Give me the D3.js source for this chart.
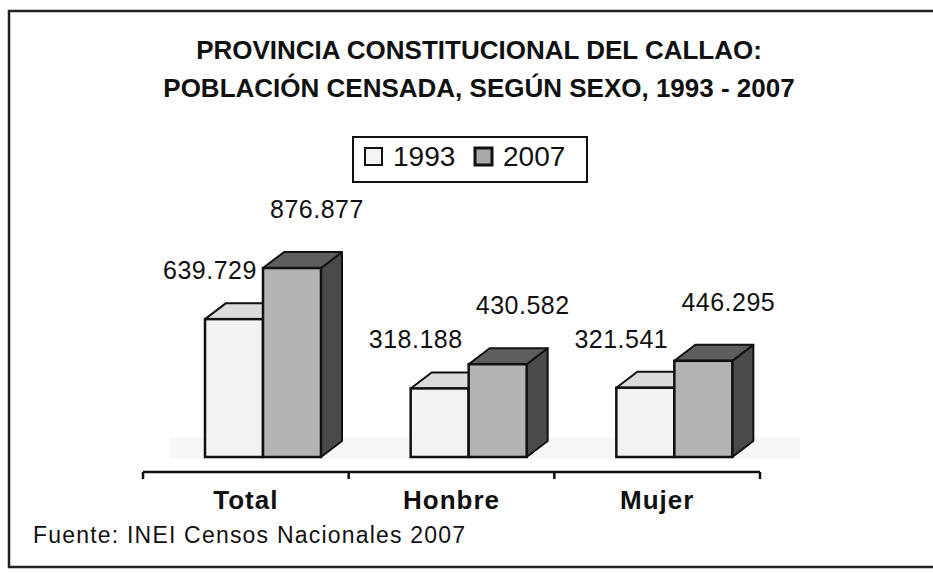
<!DOCTYPE html>
<html>
<head>
<meta charset="utf-8">
<script src="https://cdn.jsdelivr.net/npm/d3@7"></script>
<style>
  body { margin: 0; background: #fff; }
  text { font-family: "Liberation Sans", Arial, sans-serif; fill: #111; }
</style>
</head>
<body>
<svg id="chart" width="933" height="573"></svg>
<script>
// data
const categories = ["Total", "Honbre", "Mujer"];
const years = ["1993", "2007"];
const values1993 = [639729, 318188, 321541];
const values2007 = [876877, 430582, 446295];
const valueLabels1993 = ["639.729", "318.188", "321.541"];
const valueLabels2007 = ["876.877", "430.582", "446.295"];
const titleLines = ["PROVINCIA CONSTITUCIONAL DEL CALLAO:", "POBLACIÓN CENSADA, SEGÚN SEXO, 1993 - 2007"];
const sourceNote = "Fuente: INEI Censos Nacionales 2007";

const svg = d3.select("#chart");
const W = 933, H = 573;
const base = 457, axisY = 472;
const depthX = 21, depthY = 16;

// frame (right edge runs off the scan)
svg.append("path")
  .attr("d", `M${W + 5},11 L9,11 L9,567 L${W + 5},567`)
  .attr("fill", "none").attr("stroke", "#222").attr("stroke-width", 2.5);

// title
svg.selectAll("text.title").data(titleLines).join("text")
  .attr("class", "title")
  .attr("x", 479)
  .attr("y", (d, i) => 59 + i * 38)
  .attr("text-anchor", "middle")
  .style("font-size", "26px").style("font-weight", "bold")
  .text(d => d);

// legend
const legend = svg.append("g");
legend.append("rect").attr("x", 353).attr("y", 137).attr("width", 234).attr("height", 45)
  .attr("fill", "#fff").attr("stroke", "#111").attr("stroke-width", 2);
const legFill = { "1993": "#f4f4f4", "2007": "#a9a9a9" };
const legX = { "1993": 365, "2007": 475 };
years.forEach(y => {
  legend.append("rect").attr("x", legX[y]).attr("y", 148).attr("width", 17).attr("height", 17)
    .attr("fill", legFill[y]).attr("stroke", "#111").attr("stroke-width", y === "2007" ? 3 : 2);
  legend.append("text").attr("x", legX[y] + 28).attr("y", 166)
    .style("font-size", "28px").text(y);
});

// scales
const x = d3.scaleBand().domain(categories).range([143, 760]);
const xSub = d3.scaleBand().domain(years).range([62, 62 + 116]);
const yscale = d3.scaleLinear().domain([0, 1000000]).range([base, base - 215.5]);

const rows = categories.map((c, i) => ({
  cat: c,
  bars: [
    { year: "1993", value: values1993[i], label: valueLabels1993[i] },
    { year: "2007", value: values2007[i], label: valueLabels2007[i] }
  ]
}));

const colors = {
  "1993": { front: "#f2f2f2", top: "#dcdcdc", side: "#bdbdbd" },
  "2007": { front: "#b3b3b3", top: "#5e5e5e", side: "#4a4a4a" }
};

// faint floor shading like the scan
svg.append("rect").attr("x", 170).attr("y", base - 20).attr("width", 630).attr("height", 22)
  .attr("fill", "#f7f7f7");

const groups = svg.selectAll("g.cat").data(rows).join("g")
  .attr("class", "cat")
  .attr("transform", d => `translate(${x(d.cat)},0)`);

groups.each(function (row) {
  const g = d3.select(this);
  row.bars.forEach(b => {
    const x0 = xSub(b.year), w = xSub.bandwidth(), y0 = yscale(b.value);
    const c = colors[b.year];
    g.append("path")
      .attr("d", `M${x0 + w},${y0} L${x0 + w + depthX},${y0 - depthY} L${x0 + w + depthX},${base - depthY} L${x0 + w},${base} Z`)
      .attr("fill", c.side).attr("stroke", "#111").attr("stroke-width", 2).attr("stroke-linejoin", "round");
    g.append("path")
      .attr("d", `M${x0},${y0} L${x0 + depthX},${y0 - depthY} L${x0 + w + depthX},${y0 - depthY} L${x0 + w},${y0} Z`)
      .attr("fill", c.top).attr("stroke", "#111").attr("stroke-width", 2).attr("stroke-linejoin", "round");
    g.append("rect")
      .attr("x", x0).attr("y", y0).attr("width", w).attr("height", base - y0)
      .attr("fill", c.front).attr("stroke", "#111").attr("stroke-width", 2.5);
  });
  row.bars.forEach(b => {
    const cx = xSub(b.year) + xSub.bandwidth() / 2;
    g.append("text")
      .attr("x", cx + (b.year === "1993" ? -24 : 25))
      .attr("y", yscale(b.value) - (b.year === "1993" ? 40 : 50))
      .attr("text-anchor", "middle")
      .style("font-size", "25px").style("letter-spacing", "0.5px")
      .text(b.label);
  });
});

// category axis with ticks on the band edges
const axis = svg.append("g");
axis.append("line").attr("x1", x.range()[0]).attr("x2", x.range()[1])
  .attr("y1", axisY).attr("y2", axisY).attr("stroke", "#111").attr("stroke-width", 2.5);
const edges = categories.map(c => x(c)).concat([x.range()[1]]);
axis.selectAll("line.tick").data(edges).join("line")
  .attr("class", "tick")
  .attr("x1", d => d).attr("x2", d => d)
  .attr("y1", axisY).attr("y2", axisY + 7)
  .attr("stroke", "#111").attr("stroke-width", 2.5);
axis.selectAll("text.cat").data(categories).join("text")
  .attr("class", "cat")
  .attr("x", d => x(d) + x.bandwidth() / 2)
  .attr("y", axisY + 37)
  .attr("text-anchor", "middle")
  .style("font-size", "26px").style("font-weight", "bold").style("letter-spacing", "1px")
  .text(d => d);

// source
svg.append("text").attr("x", 33).attr("y", 543)
  .style("font-size", "23px").style("letter-spacing", "1.2px")
  .text(sourceNote);
</script>
</body>
</html>
